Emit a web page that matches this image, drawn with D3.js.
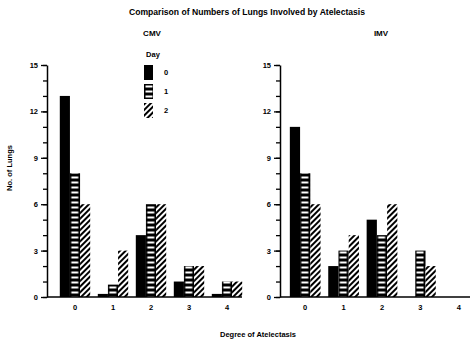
<!DOCTYPE html>
<html>
<head>
<meta charset="utf-8">
<script src="https://cdn.jsdelivr.net/npm/d3@7"></script>
<style>
  body { margin: 0; background: #fff; }
  svg text { font-family: "Liberation Sans", Arial, sans-serif; font-weight: bold; fill: #000; }
</style>
</head>
<body>
<svg width="470" height="345"></svg>
<script>
var degrees = ["0", "1", "2", "3", "4"];
var days = ["0", "1", "2"];
// No. of lungs per degree of atelectasis, one array per day
var cmvDay0 = [13, 0.2, 4, 1, 0.2];
var cmvDay1 = [8, 0.8, 6, 2, 1];
var cmvDay2 = [6, 3, 6, 2, 1];
var imvDay0 = [11, 2, 5, 0, 0];
var imvDay1 = [8, 3, 4, 3, 0];
var imvDay2 = [6, 4, 6, 2, 0];
var yMajorTicks = [0, 3, 6, 9, 12, 15];

var svg = d3.select("svg");
var defs = svg.append("defs");

// horizontal stripes for day 1
var ps = defs.append("pattern").attr("id", "stripes")
  .attr("patternUnits", "userSpaceOnUse").attr("width", 10).attr("height", 5);
ps.append("rect").attr("width", 10).attr("height", 5).attr("fill", "#000");
ps.append("rect").attr("x", 1.5).attr("y", 1.5).attr("width", 7).attr("height", 2).attr("fill", "#fff");

// diagonal hatching for day 2
var ph = defs.append("pattern").attr("id", "hatch")
  .attr("patternUnits", "userSpaceOnUse").attr("width", 4).attr("height", 4)
  .attr("patternTransform", "rotate(45)");
ph.append("rect").attr("width", 4).attr("height", 4).attr("fill", "#fff");
ph.append("rect").attr("width", 2).attr("height", 4).attr("fill", "#000");

var fills = {"0": "#000", "1": "url(#stripes)", "2": "url(#hatch)"};

var y = d3.scaleLinear().domain([0, 15]).range([297, 65]);

svg.append("text").attr("x", 247).attr("y", 15).attr("text-anchor", "middle")
  .style("font-size", "8.6px").text("Comparison of Numbers of Lungs Involved by Atelectasis");

svg.append("text").attr("x", 12).attr("y", 168).attr("text-anchor", "middle")
  .attr("transform", "rotate(-90,12,168)")
  .style("font-size", "7.5px").text("No. of Lungs");

svg.append("text").attr("x", 258).attr("y", 337).attr("text-anchor", "middle")
  .style("font-size", "7.5px").text("Degree of Atelectasis");

function panel(title, axisX, range, series, titleX) {
  var x = d3.scaleBand().domain(degrees).range(range).paddingInner(0.2).paddingOuter(0.1);
  var x1 = d3.scaleBand().domain(days).range([0, x.bandwidth()]);
  var g = svg.append("g");

  g.append("text").attr("x", titleX).attr("y", 36).attr("text-anchor", "middle")
    .style("font-size", "8px").text(title);

  var rows = degrees.map(function(d, i) {
    return days.map(function(k, j) { return {degree: d, day: k, value: series[j][i]}; });
  });

  g.selectAll(".grp").data(rows).enter().append("g")
    .attr("transform", function(d) { return "translate(" + x(d[0].degree) + ",0)"; })
    .selectAll("rect").data(function(d) { return d.filter(function(e) { return e.value > 0; }); })
    .enter().append("rect")
    .attr("x", function(d) { return x1(d.day); })
    .attr("y", function(d) { return y(d.value); })
    .attr("width", x1.bandwidth())
    .attr("height", function(d) { return y(0) - y(d.value); })
    .attr("fill", function(d) { return fills[d.day]; });

  // minor ticks every unit
  g.append("g").attr("transform", "translate(" + axisX + ",0)")
    .call(d3.axisLeft(y).tickValues(d3.range(0, 16)).tickSize(4).tickFormat(""))
    .call(function(a) { a.select(".domain").remove(); a.selectAll("line").attr("stroke-width", 1.3); });

  g.append("g").attr("transform", "translate(" + axisX + ",0)")
    .call(d3.axisLeft(y).tickValues(yMajorTicks).tickSize(6).tickPadding(3).tickSizeOuter(0))
    .call(function(a) {
      a.select(".domain").attr("stroke-width", 1.5);
      a.selectAll("line").attr("stroke-width", 1.3);
      a.selectAll("text").style("font-size", "7.5px").style("font-family", "Liberation Sans, Arial, sans-serif");
    });

  // baseline
  g.append("line").attr("x1", axisX).attr("x2", range[1] - 4)
    .attr("y1", y(0)).attr("y2", y(0)).attr("stroke", "#000").attr("stroke-width", 1.5);

  g.append("g").attr("transform", "translate(0," + y(0) + ")")
    .call(d3.axisBottom(x).tickSize(0).tickPadding(8))
    .call(function(a) {
      a.select(".domain").remove();
      a.selectAll("text").style("font-size", "7.5px").style("font-family", "Liberation Sans, Arial, sans-serif");
    });
  return g;
}

panel("CMV", 47, [56, 246], [cmvDay0, cmvDay1, cmvDay2], 152);
panel("IMV", 280, [286, 478], [imvDay0, imvDay1, imvDay2], 381);

// legend
svg.append("text").attr("x", 153).attr("y", 57).attr("text-anchor", "middle")
  .style("font-size", "7.5px").text("Day");
var leg = svg.selectAll(".leg").data(days).enter().append("g")
  .attr("transform", function(d, i) { return "translate(144," + (65 + i * 19) + ")"; });
leg.append("rect").attr("width", 9).attr("height", 15)
  .attr("fill", function(d) { return fills[d]; });
leg.append("text").attr("x", 20).attr("y", 10).style("font-size", "7.5px")
  .text(function(d) { return d; });
</script>
</body>
</html>
